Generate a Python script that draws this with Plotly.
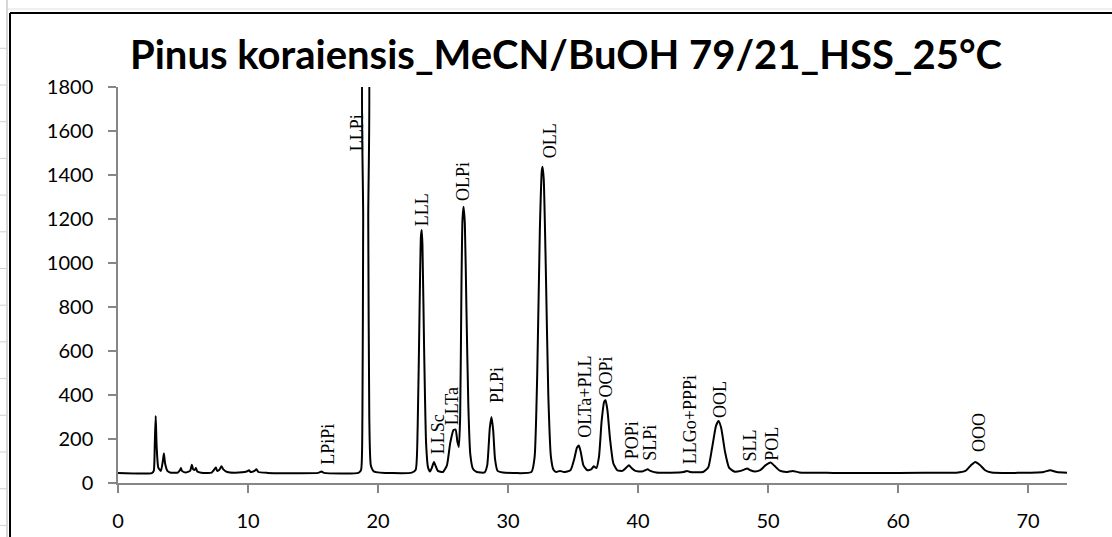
import plotly.graph_objects as go

# Chromatogram trace (retention time in min, detector response)
rt = [0, 2.6, 2.75, 2.83, 2.9, 2.97, 3.1, 3.3, 3.45, 3.53, 3.62, 3.8, 4.0, 4.6, 4.78, 4.84, 4.92, 5.2,
      5.55, 5.68, 5.78, 5.9, 5.99, 6.1, 6.4, 7.2, 7.45, 7.53, 7.63, 7.8, 7.96, 8.1, 8.4, 9.0, 9.9, 10.08,
      10.2, 10.5, 10.65, 10.8, 11.5, 15.4, 15.65, 15.85, 18.5, 18.7, 18.8, 18.86, 18.9, 19.2, 19.25, 19.33,
      19.45, 19.7, 22.6, 22.9, 23.05, 23.2, 23.3, 23.36, 23.42, 23.55, 23.7, 23.85, 24.0, 24.15, 24.3,
      24.45, 24.6, 25.0, 25.3, 25.55, 25.8, 25.97, 26.1, 26.22, 26.32, 26.42, 26.5, 26.58, 26.68, 26.8,
      26.95, 27.1, 27.3, 27.6, 28.2, 28.4, 28.6, 28.73, 28.86, 29.0, 29.2, 29.6, 31.8, 32.05, 32.25, 32.45,
      32.6, 32.66, 32.75, 32.9, 33.1, 33.3, 33.5, 33.7, 34.0, 34.3, 34.8, 35.1, 35.3, 35.45, 35.6, 35.8,
      36.1, 36.4, 36.6, 36.8, 37.0, 37.2, 37.4, 37.5, 37.65, 37.85, 38.1, 38.4, 38.8, 39.1, 39.3, 39.5,
      39.8, 40.3, 40.55, 40.74, 40.95, 41.4, 42.5, 43.5, 43.76, 44.0, 45.0, 45.4, 45.7, 46.0, 46.2, 46.4,
      46.7, 47.0, 47.4, 47.9, 48.2, 48.4, 48.65, 49.0, 49.4, 49.8, 50.2, 50.5, 50.9, 51.4, 51.9, 52.4,
      55, 58, 62, 64.5, 65.2, 65.6, 65.94, 66.3, 66.7, 67.2, 69, 71.2, 71.7, 72.2, 73]
signal = [45, 45, 55, 180, 304, 170, 70, 55, 100, 134, 90, 55, 48, 47, 60, 68, 55, 48,
          55, 83, 62, 60, 68, 52, 47, 47, 65, 71, 55, 60, 76, 62, 50, 47, 52, 58,
          50, 55, 63, 50, 46, 46, 52, 46, 46, 60, 300, 1200, 2000, 2000, 1200, 300,
          80, 52, 47, 60, 250, 800, 1120, 1150, 1080, 600, 180, 70, 52, 70, 96,
          75, 55, 50, 80, 180, 240, 243, 190, 164, 300, 900, 1200, 1256, 1180, 800,
          350, 130, 65, 50, 48, 80, 250, 300, 240, 110, 55, 48, 50, 120, 500, 1150,
          1420, 1438, 1380, 1000, 400, 120, 60, 50, 55, 50, 58, 110, 160, 170, 140, 80,
          58, 62, 76, 68, 120, 280, 370, 376, 330, 200, 90, 58, 55, 70, 81, 68,
          55, 52, 58, 62, 55, 48, 47, 50, 55, 50, 50, 70, 160, 260, 282, 250,
          140, 70, 52, 55, 62, 66, 58, 52, 58, 80, 93, 78, 56, 50, 55, 48,
          46, 45, 47, 47, 55, 80, 96, 82, 58, 48, 46, 50, 58, 50, 47]

# Peak labels
peak_names = ["LPiPi", "LLPi", "LLL", "LLSc", "LLTa", "OLPi", "PLPi", "OLL", "OLTa+PLL", "OOPi",
              "POPi", "SLPi", "LLGo+PPPi", "OOL", "SLL", "POL", "OOO"]
label_x = [16.2, 18.35, 23.4, 24.58, 25.65, 26.54, 29.17, 33.2, 35.9, 37.5,
           39.5, 40.92, 44.0, 46.26, 48.64, 50.3, 66.27]
label_y = [74, 1499, 1157, 120, 256, 1271, 355, 1468, 195, 380,
           97, 92, 74, 286, 90, 92, 132]

x_ticks = [0, 10, 20, 30, 40, 50, 60, 70]
y_ticks = [0, 200, 400, 600, 800, 1000, 1200, 1400, 1600, 1800]
title_text = "Pinus koraiensis_MeCN/BuOH 79/21_HSS_25°C"

W, H = 1112, 537
L, R, T, B = 118, 45, 87, 54
pw, ph = W - L - R, H - T - B


def px(xp):
    return (xp - L) / pw


def py(yp):
    return (H - B - yp) / ph


fig = go.Figure()
fig.add_trace(go.Scatter(x=rt, y=signal, mode="lines",
                         line=dict(color="black", width=2, shape="spline", smoothing=0.5),
                         showlegend=False, hoverinfo="skip"))

annotations = []
for name, lx, ly in zip(peak_names, label_x, label_y):
    annotations.append(dict(x=lx, y=ly, xref="x", yref="y", text=name, showarrow=False,
                            textangle=-90, xanchor="center", yanchor="bottom",
                            font=dict(family="Liberation Serif", size=18, color="black")))

shapes = []
# spreadsheet background lines
shapes.append(dict(type="line", xref="paper", yref="paper", x0=px(7), x1=px(7), y0=py(0), y1=py(H),
                   line=dict(color="#c8c8c8", width=1.5)))
shapes.append(dict(type="line", xref="paper", yref="paper", x0=px(7), x1=px(W), y0=py(9), y1=py(9),
                   line=dict(color="#e0e0e0", width=1)))
yy = 48.3
while yy < H:
    shapes.append(dict(type="line", xref="paper", yref="paper", x0=px(0), x1=px(6), y0=py(yy), y1=py(yy),
                       line=dict(color="#d0d0d0", width=1)))
    yy += 36.7
# chart border
shapes.append(dict(type="line", xref="paper", yref="paper", x0=px(10), x1=px(W + 5), y0=py(13), y1=py(13),
                   line=dict(color="black", width=2)))
shapes.append(dict(type="line", xref="paper", yref="paper", x0=px(10), x1=px(10), y0=py(13), y1=py(H + 5),
                   line=dict(color="black", width=2)))

fig.update_layout(
    width=W, height=H,
    margin=dict(l=L, r=R, t=T, b=B),
    paper_bgcolor="white", plot_bgcolor="white",
    title=dict(text=title_text, x=566 / W, xanchor="center", y=1 - 55 / H, yanchor="middle",
               xref="container", yref="container",
               font=dict(family="Lato", size=40, color="black", weight="bold")),
    xaxis=dict(range=[0, 73], tickvals=x_ticks, ticktext=[str(v) for v in x_ticks],
               showgrid=False, zeroline=False, showline=True, linecolor="#868686", linewidth=1.5,
               ticks="outside", ticklen=8, tickcolor="#868686", tickwidth=1.5, automargin=False,
               tickfont=dict(family="Lato", size=20, color="black"), ticklabelstandoff=11),
    yaxis=dict(range=[0, 1800], tickvals=y_ticks, ticktext=[str(v) for v in y_ticks],
               showgrid=False, zeroline=False, showline=True, linecolor="#868686", linewidth=1.5,
               ticks="outside", ticklen=8, tickcolor="#868686", tickwidth=1.5, automargin=False,
               tickfont=dict(family="Lato", size=20, color="black"), ticklabelstandoff=11),
    annotations=annotations,
    shapes=shapes,
)

fig.write_html("out.html", config={"displayModeBar": False},
               post_script="document.body.style.margin='0';")
